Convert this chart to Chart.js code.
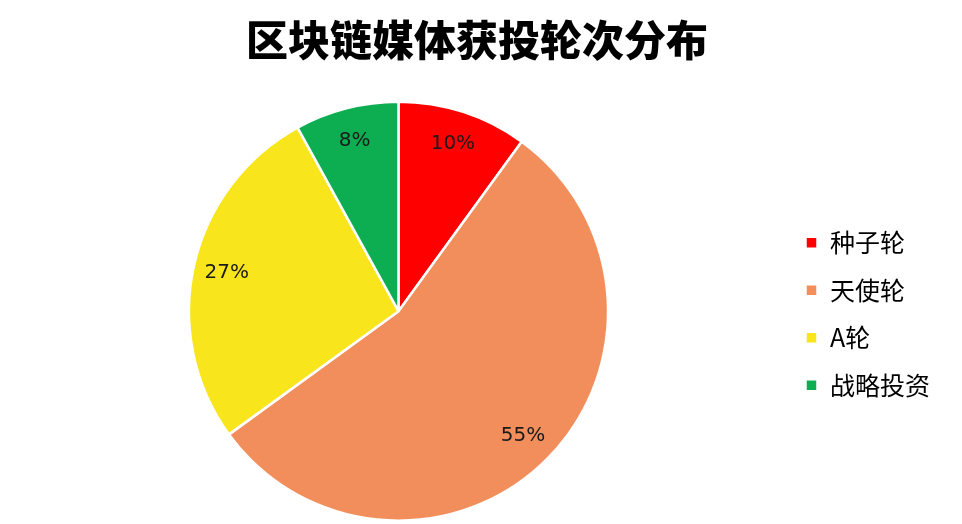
<!DOCTYPE html>
<html>
<head>
<meta charset="utf-8">
<script src="https://cdn.jsdelivr.net/npm/chart.js@4/dist/chart.umd.min.js"></script>
<style>
  html, body { margin: 0; padding: 0; background: #ffffff; }
  #wrap { width: 962px; height: 524px; position: relative; }
</style>
</head>
<body>
<div id="wrap"><canvas id="c"></canvas></div>
<script>
const titleText = '区块链媒体获投轮次分布';
const categories = ['种子轮', '天使轮', 'A轮', '战略投资'];
const values = [10, 55, 27, 8];
const colors = ['#FE0000', '#F28E5B', '#F8E51C', '#0DAE52'];

const pieLabels = {
  id: 'pieLabels',
  afterDatasetsDraw(chart) {
    const ctx = chart.ctx;
    const meta = chart.getDatasetMeta(0);
    ctx.save();
    ctx.font = '20px "DejaVu Sans", Verdana, sans-serif';
    ctx.fillStyle = '#1a1a1a';
    ctx.textAlign = 'center';
    ctx.textBaseline = 'middle';
    meta.data.forEach((arc, i) => {
      const p = arc.getProps(['x', 'y', 'startAngle', 'endAngle', 'outerRadius'], true);
      const mid = (p.startAngle + p.endAngle) / 2;
      const r = p.outerRadius * 0.84;
      ctx.fillText(values[i] + '%', p.x + Math.cos(mid) * r, p.y + Math.sin(mid) * r);
    });
    ctx.restore();
  }
};

new Chart(document.getElementById('c'), {
  type: 'pie',
  data: {
    labels: categories,
    datasets: [{
      data: values,
      backgroundColor: colors,
      borderColor: '#ffffff',
      borderWidth: 2.5,
      hoverOffset: 0
    }]
  },
  options: {
    responsive: true,
    maintainAspectRatio: false,
    animation: false,
    layout: { padding: { left: 14, right: 22, top: 0, bottom: 2 } },
    plugins: {
      title: {
        display: true,
        text: titleText,
        color: '#000000',
        font: { family: '"Noto Sans CJK SC", sans-serif', size: 42, weight: '900' },
        padding: { top: 15, bottom: 35 }
      },
      legend: {
        display: true,
        position: 'right',
        title: {
          display: true,
          text: '',
          font: { size: 1 },
          padding: { top: 105, bottom: 0 }
        },
        labels: {
          boxWidth: 12,
          boxHeight: 12,
          padding: 22.5,
          color: '#000000',
          font: { family: '"Noto Sans CJK SC", sans-serif', size: 25 }
        }
      },
      tooltip: { enabled: false }
    }
  },
  plugins: [pieLabels]
});
</script>
</body>
</html>
